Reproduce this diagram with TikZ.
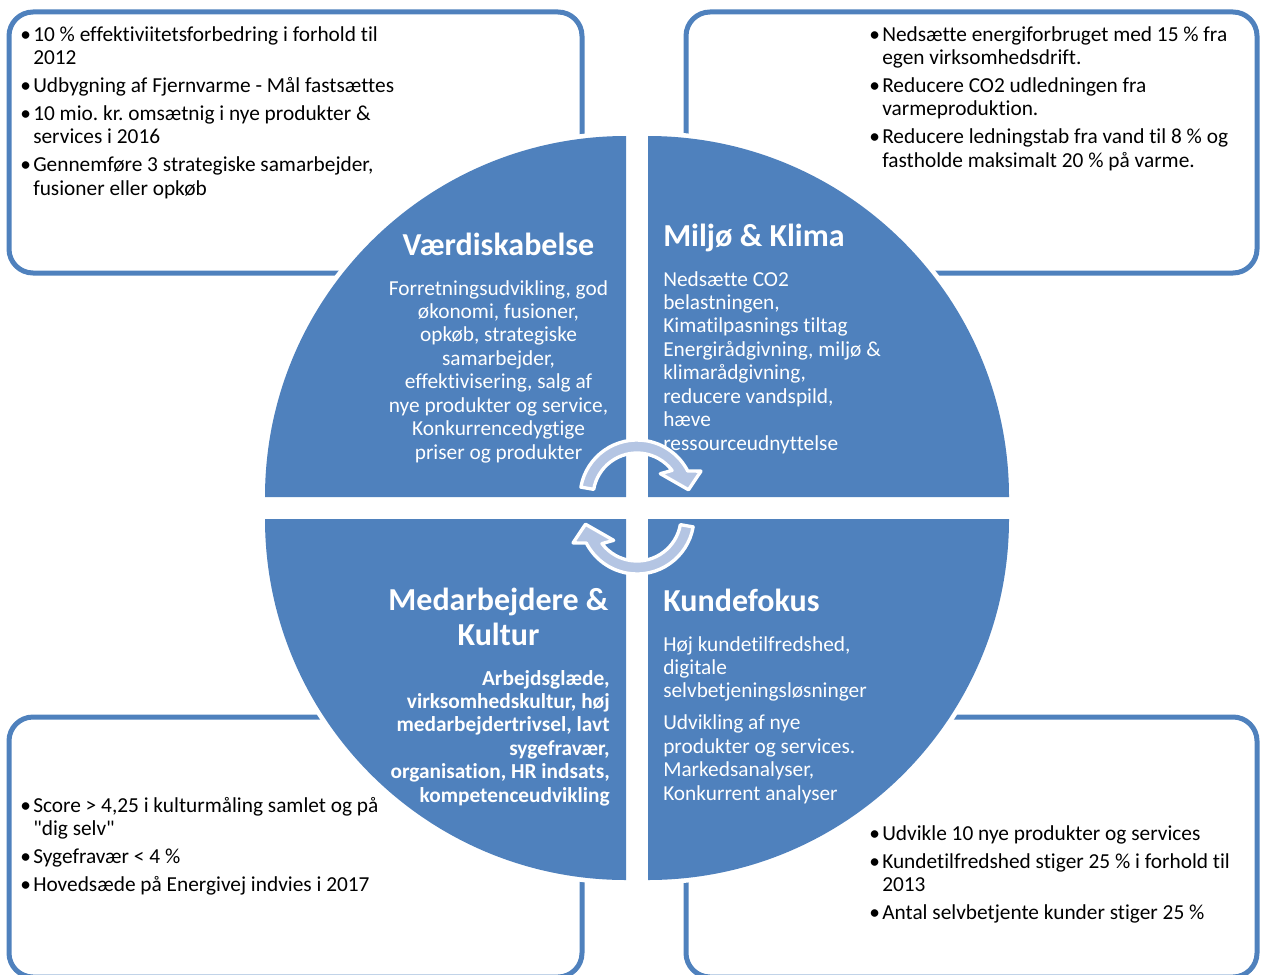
\documentclass[tikz,border=0pt]{standalone}
\usepackage{fontspec}
\setmainfont{Carlito}[Ligatures={TeXOff,CommonOff}]
\definecolor{qblue}{HTML}{4F81BD}
\definecolor{qlight}{HTML}{B4C5E3}
\newcommand\bitem[1]{\hangindent=9.75pt\hangafter=1\makebox[9.75pt][l]{•}#1\par}
\newcommand\nl{\newline}
\newcommand\fixsp{\spaceskip=0.226em\relax\xspaceskip=\spaceskip}
\newcommand\sixteen{\fontsize{16pt}{17.6pt}\selectfont}
\frenchspacing
\begin{document}
\begin{tikzpicture}[x=0.75pt, y=-0.75pt,
  box/.style={draw=qblue, line width=3.75pt, rounded corners=18pt},
  quad/.style={fill=qblue, preaction={draw=white, line width=7pt}},
  listtxt/.style={inner sep=0pt, anchor=base west, text width=330pt, align=left, font=\sixteen, text=black},
  qbody/.style={inner sep=0pt, text width=240pt, font=\sixteen, text=white},
  qbold/.style={inner sep=0pt, text width=240pt, font=\bfseries\sixteen, text=white},
  qtitle/.style={inner sep=0pt, text width=240pt, font=\bfseries\fontsize{24pt}{26.3pt}\selectfont, text=white},
  cyc/.style={fill=qlight, draw=white, line width=2.5pt, line join=round},
]
\useasboundingbox (0,0) rectangle (1262,974);
\clip (0,0) rectangle (1262,974);

% outer boxes
\draw[box] (9,12) rectangle (582,273);
\draw[box] (686,12) rectangle (1257,273);
\draw[box] (9,717) rectangle (582,977);
\draw[box] (686,717) rectangle (1257,977);

% quadrants
\fill[quad] (626,497) -- (265,497) arc[start angle=180, end angle=270, radius=361] -- cycle;
\fill[quad] (648,497) -- (648,136) arc[start angle=270, end angle=360, radius=361] -- cycle;
\fill[quad] (626,519) -- (265,519) arc[start angle=180, end angle=90, radius=361] -- cycle;
\fill[quad] (648,519) -- (1009,519) arc[start angle=0, end angle=90, radius=361] -- cycle;

% box lists
\node[listtxt] (l1) at (20,41) {\fixsp\setlength\parskip{3.4pt}%
\bitem{10 \% effektiviitetsforbedring i forhold til\nl 2012}%
\bitem{Udbygning af Fjernvarme - Mål fastsættes}%
\bitem{10 mio. kr. omsætnig i nye produkter \&\nl services i 2016}%
\bitem{Gennemføre 3 strategiske samarbejder,\nl fusioner eller opkøb}};

\node[listtxt] (l2) at (869,41) {\fixsp\setlength\parskip{3.4pt}%
\bitem{Nedsætte energiforbruget med 15 \% fra\nl egen virksomhedsdrift.}%
\bitem{Reducere CO2 udledningen fra\nl varmeproduktion.}%
\bitem{Reducere ledningstab fra vand til 8 \% og\nl fastholde maksimalt 20 \% på varme.}};

\node[listtxt] (l3) at (20,812) {\fixsp\setlength\parskip{3.4pt}%
\bitem{Score > 4,25 i kulturmåling samlet og på\nl "dig selv"}%
\bitem{Sygefravær < 4 \%}%
\bitem{Hovedsæde på Energivej indvies i 2017}};

\node[listtxt] (l4) at (869,840) {\fixsp\setlength\parskip{3.4pt}%
\bitem{Udvikle 10 nye produkter og services}%
\bitem{Kundetilfredshed stiger 25 \% i forhold til\nl 2013}%
\bitem{Antal selvbetjente kunder stiger 25 \%}};

% quadrant texts
\node[qtitle, align=center, anchor=base] (t1) at (498.5,255) {\fixsp Værdiskabelse};
\node[qbody, align=center, anchor=base] (b1) at (498.5,295) {\fixsp Forretningsudvikling, god\\ økonomi, fusioner,\\ opkøb, strategiske\\ samarbejder,\\ effektivisering, salg af\\ nye produkter og service,\\ Konkurrencedygtige\\ priser og produkter};

\node[qtitle, align=left, anchor=base west] (t2) at (663,246) {\fixsp Miljø \& Klima};
\node[qbody, align=left, anchor=base west] (b2) at (663,286) {\fixsp Nedsætte CO2\\ belastningen,\\ Kimatilpasnings tiltag\\ Energirådgivning, miljø \&\\ klimarådgivning,\\ reducere vandspild,\\ hæve\\ ressourceudnyttelse};

\node[qtitle, align=center, anchor=base] (t3) at (498.5,610) {\fixsp Medarbejdere \&\\ Kultur};
\node[qbold, align=right, anchor=base east] (b3) at (610,685) {\fixsp Arbejdsglæde,\\ virksomhedskultur, høj\\ medarbejdertrivsel, lavt\\ sygefravær,\\ organisation, HR indsats,\\ kompetenceudvikling};

\node[qtitle, align=left, anchor=base west] (t4) at (663,611) {\fixsp Kundefokus};
\node[qbody, align=left, anchor=base west] (b4) at (663,651) {\fixsp Høj kundetilfredshed,\\ digitale\\ selvbetjeningsløsninger\\[6.4pt] Udvikling af nye\\ produkter og services.\\ Markedsanalyser,\\ Konkurrent analyser};

% cycle arrows
\begin{scope}[shift={(637,497)}, yscale=-1]
\draw[cyc] (170:57) arc[start angle=170, end angle=27.2, radius=57] -- (22:69) -- (8:52) -- (45:33) -- (37.2:44) arc[start angle=37.2, end angle=170, radius=44] -- cycle;
\end{scope}
\begin{scope}[shift={(637,517)}, yscale=-1, rotate=180]
\draw[cyc] (170:57) arc[start angle=170, end angle=27.2, radius=57] -- (22:69) -- (8:52) -- (45:33) -- (37.2:44) arc[start angle=37.2, end angle=170, radius=44] -- cycle;
\end{scope}
\end{tikzpicture}
\end{document}
